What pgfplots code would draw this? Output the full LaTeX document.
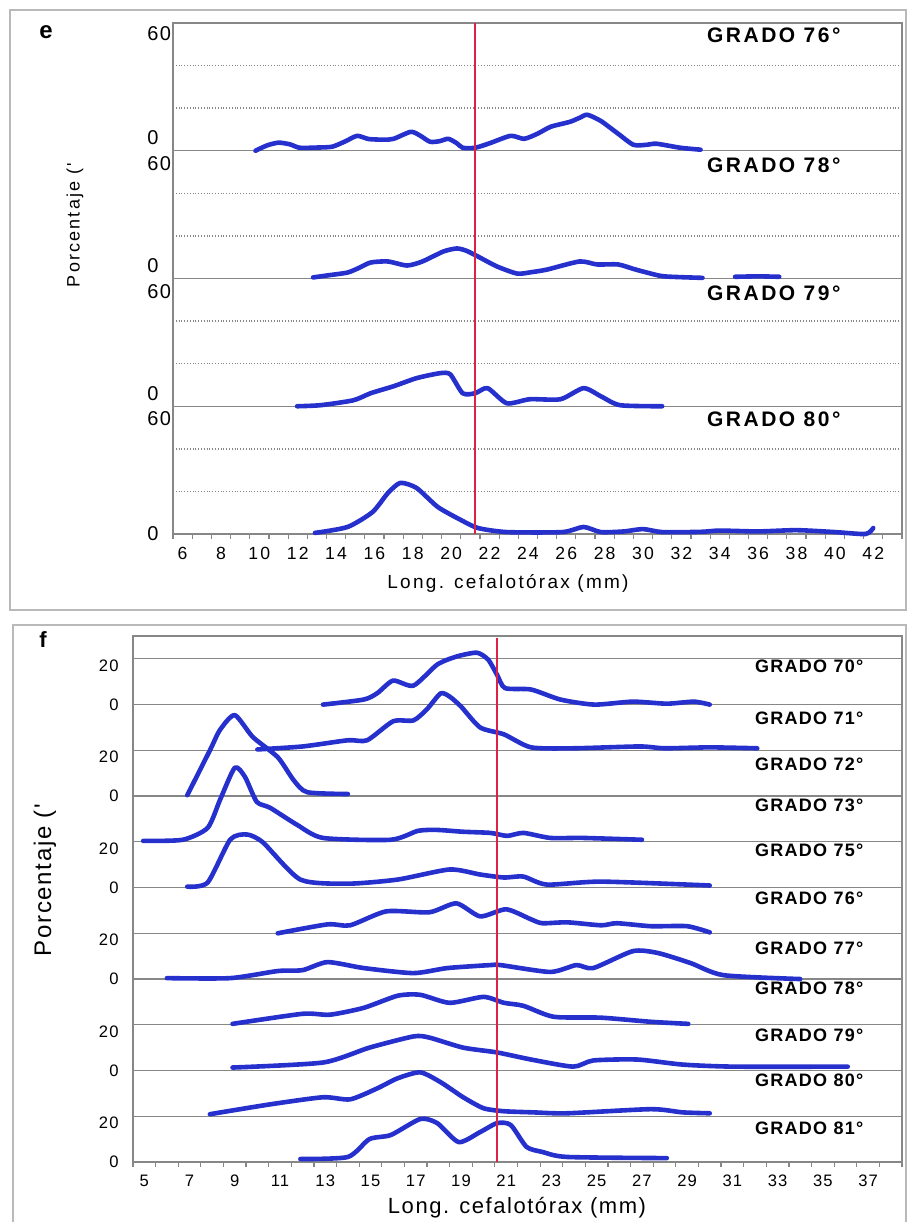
\documentclass[border=0pt]{standalone}
\usepackage{fontspec}
\setmainfont{Liberation Sans}
\newfontfamily\spacedA{Liberation Sans}[LetterSpace=12]
\newfontfamily\spacedB{Liberation Sans}[LetterSpace=7]
\usepackage{pgfplots}
\pgfplotsset{compat=1.18}
\definecolor{curve}{RGB}{38,48,205}
\definecolor{redline}{RGB}{220,35,70}
\definecolor{gridg}{RGB}{135,135,135}
\begin{document}
\begin{tikzpicture}
\path[use as bounding box] (0,0) rectangle (453.5pt,611pt);
\draw[gray!55, line width=0.8pt] (5pt,306pt) rectangle (453pt,606pt);
\draw[gray!55, line width=0.8pt] (6.5pt,-5pt) rectangle (453pt,298.5pt);
\pgfplotsset{ridge/.style={curve, line width=2.3pt, smooth, tension=0.4, line cap=round, line join=round}}
\tikzset{glab/.style={anchor=east, font=\spacedB\bfseries\fontsize{9}{11}\selectfont},
  gleb/.style={anchor=east, font=\spacedA\bfseries\fontsize{10.5}{12}\selectfont}}
%================ PANEL e =================
\begin{axis}[at={(86.5pt,344pt)}, anchor=south west, scale only axis,
  width=364.5pt, height=255.5pt,
  xmin=5.5, xmax=43.5, ymin=0, ymax=240,
  axis line style={gridg, line width=0.6pt},
  tick style={draw=none}, tick pos=left,
  xtick={6,8,...,42},
  ytick={0,54,66,114,126,174,186,235},
  yticklabels={0,60,0,60,0,60,0,60},
  extra y ticks={60,120,180}, extra y tick labels={},
  extra y tick style={grid=major, major grid style={gridg, line width=0.6pt}},
  minor ytick={20,40,80,100,140,160,200,220},
  yminorgrids=true,
  minor grid style={gridg, densely dotted, line width=0.7pt},
  extra x ticks={5.5,6.5,...,43.5}, extra x tick labels={},
  extra x tick style={tick style={draw=gridg, line width=0.6pt}, major tick length=2.5pt, tick align=outside},
  /pgf/number format/assume math mode=true,
  xticklabel style={font=\spacedA\fontsize{8.8}{10}\selectfont, yshift=-3pt},
  yticklabel style={font=\spacedB\fontsize{10}{11}\selectfont, anchor=west, inner sep=0pt, xshift=-13pt},
  clip=false]
% GRADO 76
\addplot[ridge] table[row sep=\\, y expr=\thisrow{y}+180] {x y\\
9.8 0\\ 10.4 2.5\\ 11.0 3.8\\ 11.6 3.0\\ 12.1 1.4\\ 13.0 1.5\\ 13.8 1.9\\ 14.5 4.5\\ 15.1 7.0\\ 15.7 5.5\\ 16.5 5.2\\ 17.0 5.6\\ 17.9 8.9\\ 18.4 7.0\\ 18.9 4.2\\ 19.4 4.5\\ 19.85 5.6\\ 20.3 3.5\\ 20.6 1.4\\ 21.25 1.4\\ 22.0 3.5\\ 23.1 7.0\\ 23.8 5.6\\ 24.5 8.0\\ 25.2 11.3\\ 26.2 13.6\\ 26.7 15.5\\ 27.1 16.9\\ 27.8 14.0\\ 28.7 8.0\\ 29.5 2.8\\ 30.2 2.8\\ 30.7 3.3\\ 31.95 1.4\\ 33.0 0.5\\};
% GRADO 78
\addplot[ridge] table[row sep=\\, y expr=\thisrow{y}+120] {x y\\
12.8 0.5\\ 13.6 1.5\\ 14.6 2.8\\ 15.2 5.0\\ 15.8 7.5\\ 16.7 8.0\\ 17.7 6.1\\ 18.5 8.0\\ 19.6 12.7\\ 20.3 14.1\\ 20.8 13.0\\ 21.4 10.3\\ 22.4 5.6\\ 23.45 2.3\\ 24.2 3.0\\ 25.0 4.2\\ 26.7 8.0\\ 27.6 6.6\\ 28.7 6.6\\ 29.5 4.5\\ 30.2 2.8\\ 31.1 1.0\\ 33.1 0.3\\};
\addplot[ridge] table[row sep=\\, y expr=\thisrow{y}+120] {x y\\
34.8 0.8\\ 36.0 1.0\\ 37.1 0.8\\};
% GRADO 79
\addplot[ridge] table[row sep=\\, y expr=\thisrow{y}+60] {x y\\
11.97 0\\ 13.2 0.5\\ 14.9 2.8\\ 15.8 6.1\\ 17.0 9.4\\ 18.2 13.2\\ 19.4 15.5\\ 19.95 15.0\\ 20.6 6.1\\ 21.25 6.1\\ 21.9 8.5\\ 22.9 1.4\\ 24.1 3.3\\ 25.7 3.3\\ 26.9 8.5\\ 27.8 4.7\\ 28.8 0.5\\ 31.0 0\\};
% GRADO 80
\addplot[ridge] table[row sep=\\] {x y\\
12.9 0.5\\ 14.6 3.3\\ 15.9 10.3\\ 16.7 19.2\\ 17.35 24.0\\ 18.2 21.6\\ 19.3 12.7\\ 20.5 6.6\\ 21.4 2.8\\ 22.9 0.9\\ 25.8 0.9\\ 26.9 3.3\\ 27.8 0.9\\ 29.0 1.2\\ 30.0 2.3\\ 31.0 0.9\\ 33.0 1.0\\ 34.0 1.6\\ 36.0 1.2\\ 38.0 1.8\\ 40.0 0.9\\ 41.6 0\\ 42.0 2.8\\};
\addplot[redline, line width=1.1pt] coordinates {(21.25,0) (21.25,240)};
\node[gleb] at (axis cs:40.66,234.4) {GRADO 76°};
\node[gleb] at (axis cs:40.66,173.3) {GRADO 78°};
\node[gleb] at (axis cs:40.66,113.2) {GRADO 79°};
\node[gleb] at (axis cs:40.66,54) {GRADO 80°};
\end{axis}
%================ PANEL f =================
\begin{axis}[at={(66.5pt,30pt)}, anchor=south west, scale only axis,
  width=384.5pt, height=263pt,
  xmin=4.5, xmax=38.5, ymin=0, ymax=230,
  axis line style={gridg, line width=0.6pt},
  tick style={draw=none}, tick pos=left,
  xtick={5,7,...,37},
  ytick={0,17,40,57,80,97,120,137,160,177,200,217},
  yticklabels={0,20,0,20,0,20,0,20,0,20,0,20},
  extra y ticks={20,40,...,220}, extra y tick labels={},
  extra y tick style={grid=major, major grid style={gridg, line width=0.6pt}},
  extra x ticks={4.5,5.5,...,38.5}, extra x tick labels={},
  extra x tick style={tick style={draw=gridg, line width=0.6pt}, major tick length=2.5pt, tick align=outside},
  /pgf/number format/assume math mode=true,
  xticklabel style={font=\spacedB\fontsize{8.3}{10}\selectfont, yshift=-3pt},
  yticklabel style={font=\spacedB\fontsize{8.3}{10}\selectfont, inner sep=0pt, xshift=-7pt},
  clip=false]
% GRADO 70
\addplot[ridge] table[row sep=\\, y expr=\thisrow{y}+200] {x y\\
12.9 0\\ 14.7 2.2\\ 15.3 5\\ 16.0 10.5\\ 16.9 8.3\\ 17.95 17.5\\ 18.8 21.0\\ 19.7 22.7\\ 20.2 19.7\\ 20.6 13\\ 20.95 7.2\\ 22.1 6.6\\ 23.4 2.2\\ 24.9 0\\ 26.6 1.3\\ 28.1 0.4\\ 29.3 1.3\\ 30.0 0\\};
% GRADO 71
\addplot[ridge] table[row sep=\\, y expr=\thisrow{y}+180] {x y\\
10.0 0.4\\ 12.0 1.7\\ 14.0 4.4\\ 14.85 4.4\\ 16.0 12.7\\ 16.9 13.1\\ 17.5 18\\ 18.1 24.9\\ 18.5 23.5\\ 19.0 19.2\\ 19.85 10.0\\ 20.9 7.0\\ 22.1 1.3\\ 24.0 0.9\\ 26.9 1.7\\ 28.0 0.9\\ 30.0 1.3\\ 32.1 0.9\\};
% GRADO 72
\addplot[ridge] table[row sep=\\, y expr=\thisrow{y}+160] {x y\\
6.9 0.4\\ 7.9 20.0\\ 8.35 29.0\\ 9.0 35.4\\ 9.8 25.8\\ 10.9 17.0\\ 11.6 7.0\\ 12.2 1.7\\ 14.0 0.9\\};
% GRADO 73
\addplot[ridge] table[row sep=\\, y expr=\thisrow{y}+140] {x y\\
4.95 0.4\\ 6.7 0.9\\ 7.8 6.1\\ 8.35 18.4\\ 9.0 32.4\\ 9.45 28.4\\ 9.97 17.5\\ 10.56 14.9\\ 11.76 7.4\\ 12.9 1.7\\ 15.9 0.9\\ 17.1 4.8\\ 17.95 5.2\\ 19.1 4.4\\ 20.3 3.9\\ 21.05 2.6\\ 21.76 3.9\\ 22.95 1.7\\ 24.4 1.7\\ 27.0 0.9\\};
% GRADO 75
\addplot[ridge] table[row sep=\\, y expr=\thisrow{y}+120] {x y\\
6.9 0.4\\ 7.8 2.2\\ 8.8 21.0\\ 9.54 23.2\\ 10.25 19.7\\ 11.9 3.5\\ 14.0 1.7\\ 16.2 3.5\\ 18.5 7.9\\ 19.85 5.7\\ 20.9 4.4\\ 21.76 4.8\\ 22.8 1.3\\ 25.2 2.6\\ 30.0 0.9\\};
% GRADO 76
\addplot[ridge] table[row sep=\\, y expr=\thisrow{y}+100] {x y\\
10.9 0\\ 13.1 3.9\\ 14.1 3.5\\ 15.7 9.6\\ 17.6 9.2\\ 18.8 13.1\\ 19.85 7.4\\ 21.0 10.5\\ 22.1 6.1\\ 22.6 4.4\\ 23.7 4.8\\ 25.2 3.5\\ 25.9 4.4\\ 27.4 3.1\\ 29.0 3.1\\ 30.0 0.4\\};
% GRADO 77
\addplot[ridge] table[row sep=\\, y expr=\thisrow{y}+80] {x y\\
6.0 0.4\\ 8.8 0.4\\ 10.9 3.5\\ 12.0 3.9\\ 13.1 7.4\\ 14.7 4.8\\ 16.9 2.6\\ 18.4 4.8\\ 20.3 6.1\\ 20.75 6.1\\ 22.95 3.1\\ 24.1 6.1\\ 24.85 4.8\\ 26.6 12.2\\ 27.7 11.4\\ 29.15 7.0\\ 30.6 1.7\\ 34.0 0\\};
% GRADO 78
\addplot[ridge] table[row sep=\\, y expr=\thisrow{y}+60] {x y\\
8.9 0.4\\ 12.0 4.8\\ 13.2 4.4\\ 14.7 7.4\\ 16.2 12.7\\ 17.2 13.1\\ 18.5 9.6\\ 20.0 12.2\\ 20.9 9.6\\ 21.76 8.3\\ 23.1 3.5\\ 25.2 3.1\\ 27.4 1.3\\ 29.05 0.4\\};
% GRADO 79
\addplot[ridge] table[row sep=\\, y expr=\thisrow{y}+40] {x y\\
8.9 1.3\\ 12.9 3.5\\ 14.95 10.0\\ 16.9 14.9\\ 17.6 14.4\\ 19.1 10.0\\ 20.6 7.9\\ 22.1 4.8\\ 23.96 1.7\\ 24.85 4.4\\ 26.8 4.8\\ 28.8 2.6\\ 31.05 1.7\\ 36.1 1.7\\};
% GRADO 80
\addplot[ridge] table[row sep=\\, y expr=\thisrow{y}+20] {x y\\
7.9 0.9\\ 10.56 5.2\\ 12.9 8.3\\ 14.1 7.4\\ 15.3 12.2\\ 16.2 16.6\\ 17.2 19.2\\ 18.1 14.9\\ 19.1 8.3\\ 20.0 3.5\\ 20.9 2.2\\ 22.2 1.7\\ 23.7 1.3\\ 27.4 3.1\\ 28.8 1.7\\ 30.0 1.3\\};
% GRADO 81
\addplot[ridge] table[row sep=\\] {x y\\
11.9 1.3\\ 14.0 2.2\\ 14.95 10.0\\ 15.9 11.8\\ 17.2 18.8\\ 17.95 17.0\\ 18.9 8.7\\ 19.85 13.1\\ 20.6 17.0\\ 21.2 16.2\\ 21.9 6.6\\ 22.6 4.4\\ 23.7 2.2\\ 28.1 1.7\\};
\addplot[redline, line width=1.1pt] coordinates {(20.6,0) (20.6,229)};
\node[glab] at (axis cs:37.1,216.9) {GRADO 70°};
\node[glab] at (axis cs:37.1,194.1) {GRADO 71°};
\node[glab] at (axis cs:37.1,174) {GRADO 72°};
\node[glab] at (axis cs:37.1,156.1) {GRADO 73°};
\node[glab] at (axis cs:37.1,136.4) {GRADO 75°};
\node[glab] at (axis cs:37.1,115.4) {GRADO 76°};
\node[glab] at (axis cs:37.1,93.6) {GRADO 77°};
\node[glab] at (axis cs:37.1,76.1) {GRADO 78°};
\node[glab] at (axis cs:37.1,55.5) {GRADO 79°};
\node[glab] at (axis cs:37.1,35.9) {GRADO 80°};
\node[glab] at (axis cs:37.1,14.9) {GRADO 81°};
\end{axis}
%================ labels =================
\node[font=\spacedA\fontsize{9.5}{11}\selectfont] at (254pt,319.5pt) {Long. cefalotórax (mm)};
\node[font=\spacedA\fontsize{9}{10}\selectfont, rotate=90] at (37.5pt,498.5pt) {Porcentaje ('};
\node[font=\bfseries\fontsize{12}{14}\selectfont] at (23pt,595pt) {e};
\node[font=\spacedB\fontsize{11}{13}\selectfont] at (258.5pt,7pt) {Long. cefalotórax (mm)};
\node[font=\spacedB\fontsize{12}{14}\selectfont, rotate=90] at (22.5pt,171pt) {Porcentaje ('};
\node[font=\bfseries\fontsize{11}{13}\selectfont] at (21.5pt,291pt) {f};
\end{tikzpicture}
\end{document}
